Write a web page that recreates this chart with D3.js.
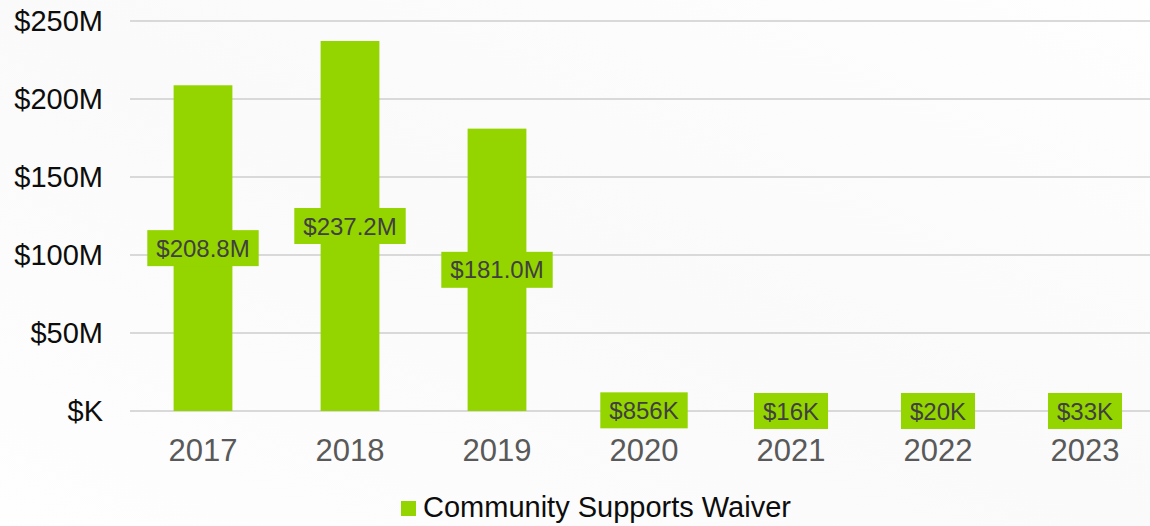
<!DOCTYPE html>
<html>
<head>
<meta charset="utf-8">
<script src="https://cdn.jsdelivr.net/npm/d3@7"></script>
<style>
  html, body { margin: 0; padding: 0; background: #fdfdfd; }
  svg { display: block; font-family: "Liberation Sans", Arial, sans-serif; }
</style>
</head>
<body>
<script>
// Annual spending, Community Supports Waiver
const years = ["2017", "2018", "2019", "2020", "2021", "2022", "2023"];
const spending = [208.8e6, 237.2e6, 181.0e6, 856e3, 16e3, 20e3, 33e3];
const valueLabels = ["$208.8M", "$237.2M", "$181.0M", "$856K", "$16K", "$20K", "$33K"];
const yTicks = [0, 50e6, 100e6, 150e6, 200e6, 250e6];
const yTickLabels = ["$K", "$50M", "$100M", "$150M", "$200M", "$250M"];
const seriesName = "Community Supports Waiver";

const W = 1150, H = 526;
const barColor = "#94d500";

const svg = d3.select("body").append("svg")
  .attr("width", W).attr("height", H);

const defs = svg.append("defs");
const bg = defs.append("linearGradient").attr("id", "bg")
  .attr("x1", "0").attr("y1", "1").attr("x2", "1").attr("y2", "0");
bg.append("stop").attr("offset", "0").attr("stop-color", "#fefefe");
bg.append("stop").attr("offset", "0.5").attr("stop-color", "#fafafa");
bg.append("stop").attr("offset", "1").attr("stop-color", "#fefefe");
svg.append("rect").attr("width", W).attr("height", H).attr("fill", "url(#bg)");

const x = d3.scaleBand()
  .domain(years)
  .range([129.5, 1158.5])
  .paddingInner(0.6)
  .paddingOuter(0.3);

const y = d3.scaleLinear()
  .domain([0, 250e6])
  .range([411, 21]);

// Gridlines
svg.append("g")
  .selectAll("line")
  .data(yTicks)
  .join("line")
  .attr("x1", 130).attr("x2", W)
  .attr("y1", d => y(d)).attr("y2", d => y(d))
  .attr("stroke", "#d9d9d9")
  .attr("stroke-width", 2);

// Y axis labels
svg.append("g")
  .selectAll("text")
  .data(yTicks)
  .join("text")
  .attr("x", 103)
  .attr("y", d => y(d))
  .attr("dy", "0.36em")
  .attr("text-anchor", "end")
  .attr("font-size", 29)
  .attr("fill", "#0d0d0d")
  .text((d, i) => yTickLabels[i]);

// Bars
svg.append("g")
  .selectAll("rect")
  .data(years)
  .join("rect")
  .attr("x", d => x(d))
  .attr("width", x.bandwidth())
  .attr("y", (d, i) => y(spending[i]))
  .attr("height", (d, i) => y(0) - y(spending[i]))
  .attr("fill", barColor);

// Year labels
svg.append("g")
  .selectAll("text")
  .data(years)
  .join("text")
  .attr("x", d => x(d) + x.bandwidth() / 2)
  .attr("y", 461)
  .attr("text-anchor", "middle")
  .attr("font-size", 31)
  .attr("fill", "#595959")
  .text(d => d);

// Value labels, boxed and centred on each bar
const labels = svg.append("g")
  .selectAll("g")
  .data(years)
  .join("g")
  .attr("transform", (d, i) =>
    `translate(${x(d) + x.bandwidth() / 2},${(y(0) + y(spending[i])) / 2})`);

labels.append("text")
  .attr("text-anchor", "middle")
  .attr("dy", "0.36em")
  .attr("font-size", 24)
  .attr("fill", "#404040")
  .text((d, i) => valueLabels[i])
  .each(function () {
    const b = this.getBBox();
    d3.select(this.parentNode).insert("rect", "text")
      .attr("x", b.x - 9)
      .attr("width", b.width + 18)
      .attr("y", -18)
      .attr("height", 36)
      .attr("fill", barColor);
  });

// Legend
const legend = svg.append("g");
legend.append("rect")
  .attr("x", 401).attr("y", 501)
  .attr("width", 15).attr("height", 15)
  .attr("fill", barColor);
legend.append("text")
  .attr("x", 423).attr("y", 517)
  .attr("font-size", 29)
  .attr("fill", "#0d0d0d")
  .text(seriesName);
</script>
</body>
</html>
